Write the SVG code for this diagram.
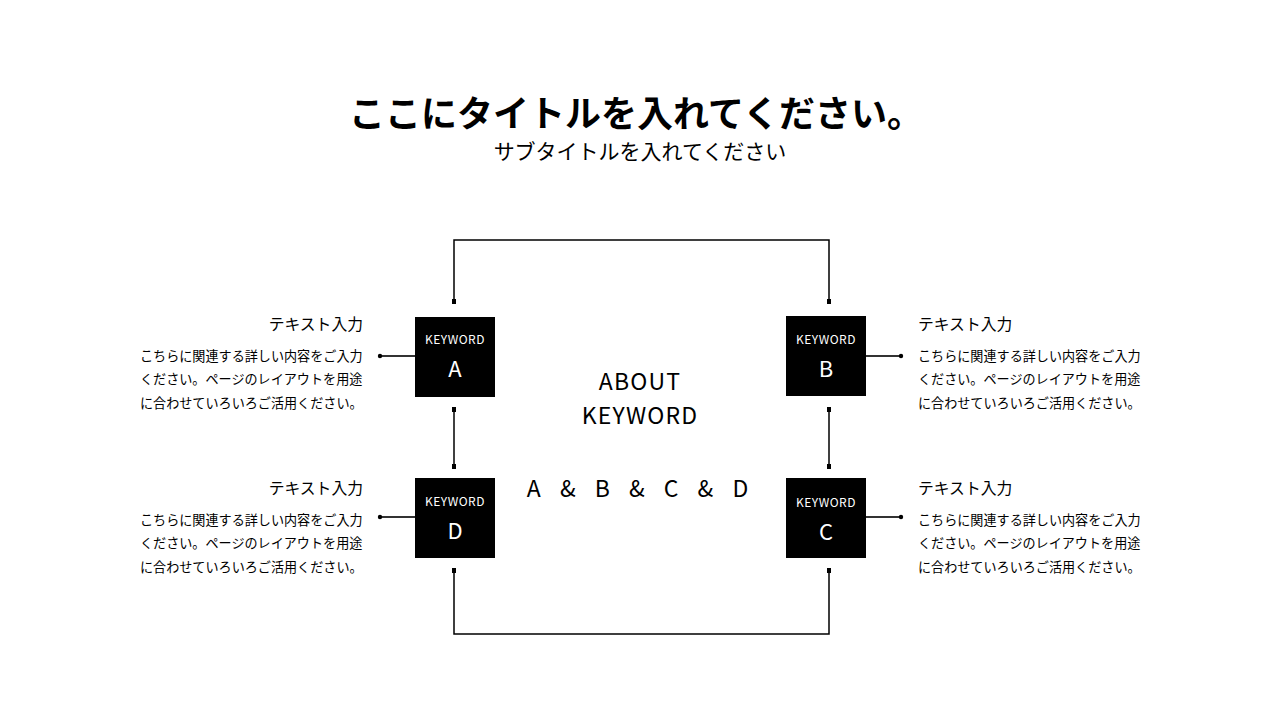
<svg xmlns="http://www.w3.org/2000/svg" width="1280" height="720" viewBox="0 0 1280 720">
<style>
text{font-family:"Noto Sans CJK JP","Noto Sans",sans-serif;fill:#000}
.box{fill:#000}
.kw{fill:#fff;font-size:12px;letter-spacing:0.5px;text-anchor:middle}
.lt{fill:#fff;font-size:22px;text-anchor:middle}
.ln{fill:none;stroke:#000;stroke-width:1.5}
.cl{fill:none;stroke:#333;stroke-width:2}
.h{font-size:15.8px}
.p{font-size:13.1px}
.c{font-size:23px;letter-spacing:1.2px;text-anchor:middle}
</style>
<rect width="1280" height="720" fill="#fff"/>
<text x="636" y="127" font-size="36" font-weight="bold" text-anchor="middle">ここにタイトルを入れてください。</text>
<text x="640" y="159" font-size="21" text-anchor="middle">サブタイトルを入れてください</text>
<g id="connectors">
<path class="ln" d="M454,302 V240 H829 V302"/>
<path class="ln" d="M454,409 V466"/>
<path class="ln" d="M829,409 V466"/>
<path class="ln" d="M454,570 V634 H829 V570"/>
<path class="cl" d="M380,356 H415 M380,517 H415 M866,356 H901 M866,517 H901"/>
<g fill="#000">
<rect x="452" y="299" width="4" height="5"/><rect x="827" y="299" width="4" height="5"/>
<rect x="452" y="407" width="4" height="5"/><rect x="827" y="407" width="4" height="5"/>
<rect x="452" y="464" width="4" height="5"/><rect x="827" y="464" width="4" height="5"/>
<rect x="452" y="568" width="4" height="5"/><rect x="827" y="568" width="4" height="5"/>
<circle cx="380" cy="356" r="2.2"/><circle cx="380" cy="517" r="2.2"/>
<circle cx="901" cy="356" r="2.2"/><circle cx="901" cy="517" r="2.2"/>
</g>
</g>
<g id="nodeA"><rect class="box" x="415" y="317" width="80" height="80"/><text class="kw" x="455" y="344">KEYWORD</text><text class="lt" x="455" y="377">A</text></g>
<g id="nodeB"><rect class="box" x="786" y="316" width="80" height="80"/><text class="kw" x="826" y="344">KEYWORD</text><text class="lt" x="826" y="377">B</text></g>
<g id="nodeD"><rect class="box" x="415" y="478" width="80" height="80"/><text class="kw" x="455" y="506">KEYWORD</text><text class="lt" x="455" y="539">D</text></g>
<g id="nodeC"><rect class="box" x="786" y="478" width="80" height="80"/><text class="kw" x="826" y="507">KEYWORD</text><text class="lt" x="826" y="540">C</text></g>
<g id="center">
<text class="c" x="640" y="390">ABOUT</text>
<text class="c" x="640" y="424">KEYWORD</text>
<text class="c" x="641" y="497" style="letter-spacing:7px">A &amp; B &amp; C &amp; D</text>
</g>
<g id="textA">
<text class="h" x="363" y="330" text-anchor="end">テキスト入力</text>
<text class="p" x="140" y="361">こちらに関連する詳しい内容をご入力</text>
<text class="p" x="140" y="384">ください。ページのレイアウトを用途</text>
<text class="p" x="140" y="408">に合わせていろいろご活用ください。</text>
</g>
<g id="textD">
<text class="h" x="363" y="494" text-anchor="end">テキスト入力</text>
<text class="p" x="140" y="525">こちらに関連する詳しい内容をご入力</text>
<text class="p" x="140" y="548">ください。ページのレイアウトを用途</text>
<text class="p" x="140" y="572">に合わせていろいろご活用ください。</text>
</g>
<g id="textB">
<text class="h" x="918" y="330">テキスト入力</text>
<text class="p" x="918" y="361">こちらに関連する詳しい内容をご入力</text>
<text class="p" x="918" y="384">ください。ページのレイアウトを用途</text>
<text class="p" x="918" y="408">に合わせていろいろご活用ください。</text>
</g>
<g id="textC">
<text class="h" x="918" y="494">テキスト入力</text>
<text class="p" x="918" y="525">こちらに関連する詳しい内容をご入力</text>
<text class="p" x="918" y="548">ください。ページのレイアウトを用途</text>
<text class="p" x="918" y="572">に合わせていろいろご活用ください。</text>
</g>
</svg>
